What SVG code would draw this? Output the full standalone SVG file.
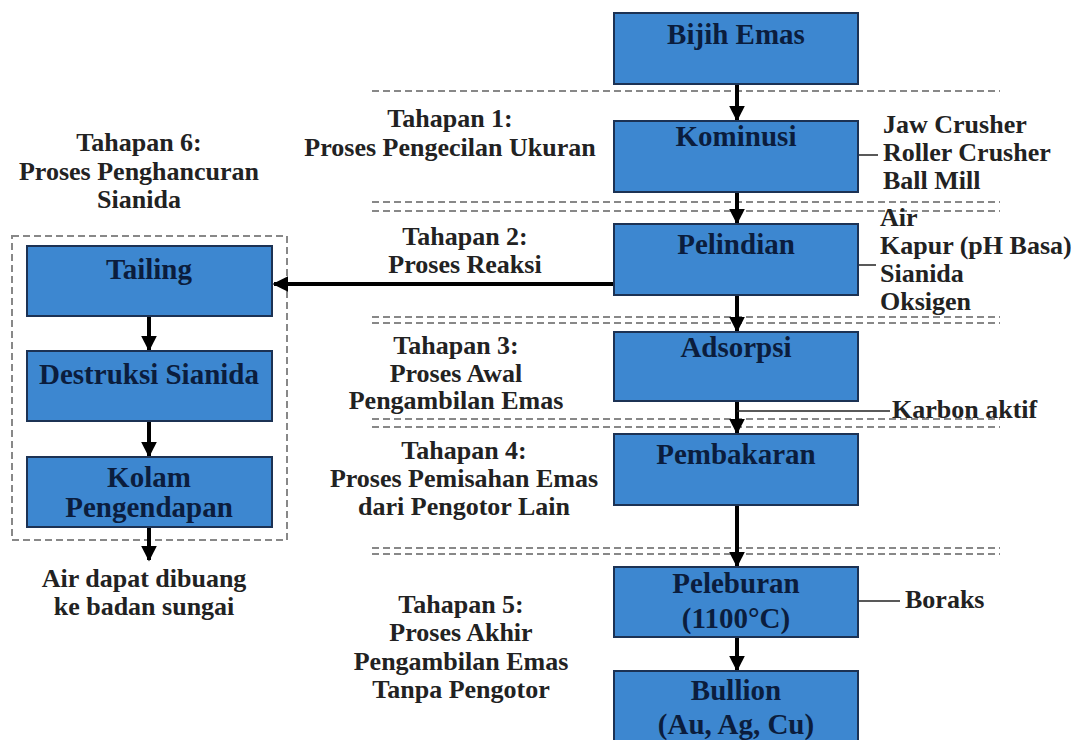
<svg xmlns="http://www.w3.org/2000/svg" width="1077" height="740" viewBox="0 0 1077 740">
<style>
.box{fill:#3d87d0;stroke:#1c3254;stroke-width:2}
.bt{font-family:'Liberation Serif','Times New Roman',serif;font-weight:bold;font-size:29px;fill:#0b1d3d;text-anchor:middle}
.lt{font-family:'Liberation Serif','Times New Roman',serif;font-weight:bold;font-size:26px;fill:#222;text-anchor:middle}
.rt{font-family:'Liberation Serif','Times New Roman',serif;font-weight:bold;font-size:26px;fill:#222}
.dash{stroke:#888;stroke-width:2;stroke-dasharray:7,4;fill:none}
.arr{stroke:#000;stroke-width:4;fill:none;marker-end:url(#ah)}
.thin{stroke:#222;stroke-width:1.5;fill:none}
</style>
<defs>
<marker id="ah" viewBox="0 0 10 10" refX="9" refY="5" markerWidth="4" markerHeight="4" orient="auto" markerUnits="strokeWidth">
<path d="M0,0 L10,5 L0,10 Z" fill="#000"/>
</marker>
</defs>
<rect width="1077" height="740" fill="#fff"/>
<g id="separators">
<line class="dash" x1="372" y1="91" x2="1000" y2="91"/>
<line class="dash" x1="372" y1="202" x2="1000" y2="202"/>
<line class="dash" x1="372" y1="211" x2="1000" y2="211"/>
<line class="dash" x1="372" y1="317" x2="1000" y2="317"/>
<line class="dash" x1="372" y1="323" x2="1000" y2="323"/>
<line class="dash" x1="372" y1="419" x2="1000" y2="419"/>
<line class="dash" x1="372" y1="427" x2="1000" y2="427"/>
<line class="dash" x1="372" y1="548" x2="1000" y2="548"/>
<line class="dash" x1="372" y1="554" x2="1000" y2="554"/>
<rect class="dash" x="12" y="236" width="275" height="304" stroke="#333" stroke-width="1.5"/>
</g>
<g id="connectors">
<line class="arr" x1="737" y1="84" x2="737" y2="120"/>
<line class="arr" x1="737" y1="192" x2="737" y2="223"/>
<line class="arr" x1="737" y1="295" x2="737" y2="331"/>
<line class="arr" x1="737" y1="401" x2="737" y2="433"/>
<line class="arr" x1="737" y1="505" x2="737" y2="566"/>
<line class="arr" x1="737" y1="637" x2="737" y2="670"/>
<line class="arr" x1="614" y1="284" x2="274" y2="284"/>
<line class="arr" x1="149" y1="316" x2="149" y2="350"/>
<line class="arr" x1="149" y1="421" x2="149" y2="456"/>
<line class="arr" x1="149" y1="527" x2="149" y2="560"/>
<line class="thin" x1="858" y1="155" x2="878" y2="155"/>
<line class="thin" x1="858" y1="265" x2="876" y2="265"/>
<line class="thin" x1="737" y1="411" x2="890" y2="411"/>
<line class="thin" x1="858" y1="601" x2="900" y2="601"/>
</g>
<g id="bijih"><rect class="box" x="614" y="13" width="244" height="71"/><text class="bt" x="736" y="44">Bijih Emas</text></g>
<g id="kominusi"><rect class="box" x="614" y="121" width="244" height="71"/><text class="bt" x="736" y="146">Kominusi</text></g>
<g id="pelindian"><rect class="box" x="614" y="224" width="244" height="71"/><text class="bt" x="736" y="254">Pelindian</text></g>
<g id="adsorpsi"><rect class="box" x="614" y="332" width="244" height="69"/><text class="bt" x="736" y="357">Adsorpsi</text></g>
<g id="pembakaran"><rect class="box" x="614" y="434" width="244" height="71"/><text class="bt" x="736" y="464">Pembakaran</text></g>
<g id="peleburan"><rect class="box" x="614" y="567" width="244" height="70"/><text class="bt" x="736" y="593">Peleburan</text><text class="bt" x="736" y="628">(1100°C)</text></g>
<g id="bullion"><rect class="box" x="614" y="671" width="244" height="75"/><text class="bt" x="736" y="700">Bullion</text><text class="bt" x="736" y="734">(Au, Ag, Cu)</text></g>
<g id="tailing"><rect class="box" x="27" y="246" width="245" height="70"/><text class="bt" x="149" y="279">Tailing</text></g>
<g id="destruksi"><rect class="box" x="27" y="351" width="245" height="70"/><text class="bt" x="149" y="384">Destruksi Sianida</text></g>
<g id="kolam"><rect class="box" x="27" y="457" width="245" height="70"/><text class="bt" x="149" y="487">Kolam</text><text class="bt" x="149" y="517">Pengendapan</text></g>
<g id="labels">
<text class="lt" x="139" y="151">Tahapan 6:</text>
<text class="lt" x="139" y="180">Proses Penghancuran</text>
<text class="lt" x="139" y="208">Sianida</text>
<text class="lt" x="450" y="127">Tahapan 1:</text>
<text class="lt" x="450" y="156">Proses Pengecilan Ukuran</text>
<text class="lt" x="465" y="245">Tahapan 2:</text>
<text class="lt" x="465" y="273">Proses Reaksi</text>
<text class="lt" x="456" y="354">Tahapan 3:</text>
<text class="lt" x="456" y="382">Proses Awal</text>
<text class="lt" x="456" y="409">Pengambilan Emas</text>
<text class="lt" x="464" y="459">Tahapan 4:</text>
<text class="lt" x="464" y="487">Proses Pemisahan Emas</text>
<text class="lt" x="464" y="515">dari Pengotor Lain</text>
<text class="lt" x="461" y="613">Tahapan 5:</text>
<text class="lt" x="461" y="641">Proses Akhir</text>
<text class="lt" x="461" y="670">Pengambilan Emas</text>
<text class="lt" x="461" y="698">Tanpa Pengotor</text>
<text class="lt" x="144" y="587">Air dapat dibuang</text>
<text class="lt" x="144" y="615">ke badan sungai</text>
<text class="rt" x="883" y="133">Jaw Crusher</text>
<text class="rt" x="883" y="161">Roller Crusher</text>
<text class="rt" x="883" y="189">Ball Mill</text>
<text class="rt" x="880" y="226">Air</text>
<text class="rt" x="880" y="254">Kapur (pH Basa)</text>
<text class="rt" x="880" y="282">Sianida</text>
<text class="rt" x="880" y="310">Oksigen</text>
<text class="rt" x="892" y="418">Karbon aktif</text>
<text class="rt" x="905" y="608">Boraks</text>
</g>
</svg>
